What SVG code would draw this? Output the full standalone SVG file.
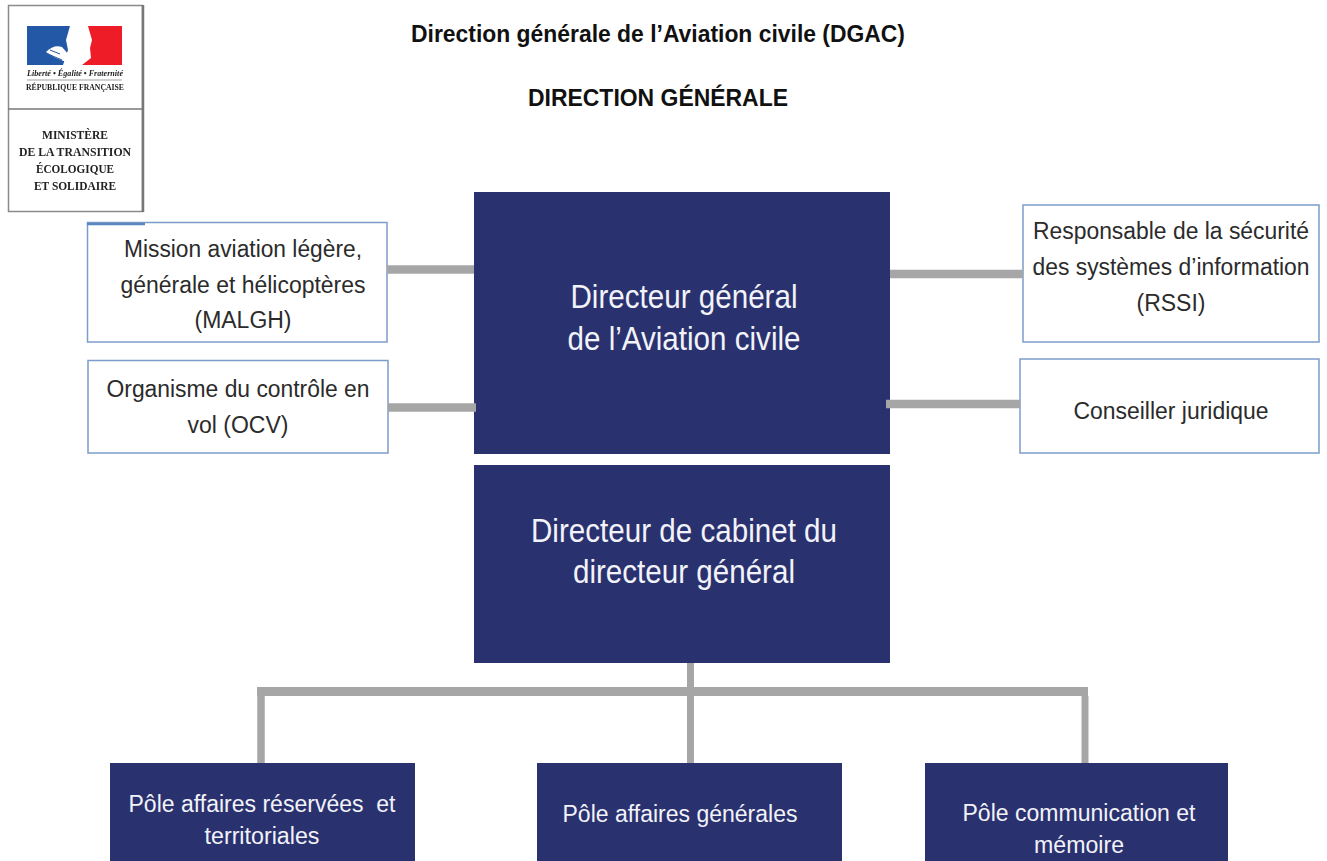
<svg xmlns="http://www.w3.org/2000/svg" width="1327" height="861" viewBox="0 0 1327 861">
<defs><filter id="soft" x="-5%" y="-5%" width="110%" height="110%"><feGaussianBlur stdDeviation="0.45"/></filter></defs>
<style>
text{font-family:"Liberation Sans",Arial,sans-serif;text-anchor:middle}
.dark{fill:#2a316f}
.light{fill:#fff;stroke:#7c9ccb;stroke-width:1.5}
.t{font-size:23px;fill:#2b2b2b}
.big{font-size:33px;fill:#f2f3f8}
.mid{font-size:23px;fill:#f2f3f8}
.h{font-size:23px;font-weight:bold;fill:#111}
.c{fill:none;stroke:#a6a6a6;stroke-width:8.5}
.logo{font-family:"Liberation Serif",serif;fill:#222}
</style>
<rect width="1327" height="861" fill="#fff"/>
<g id="logo" filter="url(#soft)">
<rect x="8.500" y="5.500" width="134" height="206" fill="#fff" stroke="#8a8a8a" stroke-width="1.500"/>
<path d="M143 5V212" stroke="#777" stroke-width="2.500"/>
<path d="M8 109H143" stroke="#777" stroke-width="1.500"/>
<path d="M27 26H70L66 40 68 50 63 65H27Z" fill="#2459a6"/>
<path d="M88 26H122V65H82L91 58 90 48 92 40Z" fill="#ee1c25"/>
<path d="M46 52Q54 44 62 47L70 56 66 62 56 58 52 56Z" fill="#fff"/>
<path d="M50 50L60 54M48 54L62 60" stroke="#2459a6" stroke-width="1"/>
<text class="logo" x="75" y="76" font-size="7.500" font-style="italic" font-weight="bold" textLength="96" lengthAdjust="spacingAndGlyphs">Liberté • Égalité • Fraternité</text>
<path d="M27 80H122" stroke="#888" stroke-width="0.800"/>
<text class="logo" x="75" y="90" font-size="8" font-weight="bold" textLength="98" lengthAdjust="spacingAndGlyphs">RÉPUBLIQUE FRANÇAISE</text>
<text class="logo" x="75" y="139" font-size="12.500" font-weight="bold" textLength="66" lengthAdjust="spacingAndGlyphs">MINISTÈRE</text>
<text class="logo" x="75" y="156" font-size="12.500" font-weight="bold" textLength="112" lengthAdjust="spacingAndGlyphs">DE LA TRANSITION</text>
<text class="logo" x="75" y="173" font-size="12.500" font-weight="bold" textLength="78" lengthAdjust="spacingAndGlyphs">ÉCOLOGIQUE</text>
<text class="logo" x="75" y="190" font-size="12.500" font-weight="bold" textLength="82" lengthAdjust="spacingAndGlyphs">ET SOLIDAIRE</text>
</g>
<g id="titles">
<text class="h" x="658" y="42" textLength="494" lengthAdjust="spacingAndGlyphs">Direction générale de l’Aviation civile (DGAC)</text>
<text class="h" x="658" y="106" textLength="260" lengthAdjust="spacingAndGlyphs">DIRECTION GÉNÉRALE</text>
</g>
<g id="n-malgh">
<rect class="light" x="87.500" y="222.500" width="299.500" height="119.500"/>
<path d="M87 224H145" stroke="#5b86c0" stroke-width="2.500"/>
<text class="t" x="243" y="257" textLength="238" lengthAdjust="spacingAndGlyphs">Mission aviation légère,</text>
<text class="t" x="243" y="293" textLength="245" lengthAdjust="spacingAndGlyphs">générale et hélicoptères</text>
<text class="t" x="243" y="328" textLength="97" lengthAdjust="spacingAndGlyphs">(MALGH)</text>
</g>
<g id="n-ocv">
<rect class="light" x="88" y="360.500" width="300" height="92.500"/>
<text class="t" x="238" y="397" textLength="263" lengthAdjust="spacingAndGlyphs">Organisme du contrôle en</text>
<text class="t" x="238" y="433" textLength="101" lengthAdjust="spacingAndGlyphs">vol (OCV)</text>
</g>
<g id="n-rssi">
<rect class="light" x="1023" y="205" width="296" height="137"/>
<text class="t" x="1171" y="239" textLength="276" lengthAdjust="spacingAndGlyphs">Responsable de la sécurité</text>
<text class="t" x="1171" y="275" textLength="277" lengthAdjust="spacingAndGlyphs">des systèmes d’information</text>
<text class="t" x="1171" y="311" textLength="69" lengthAdjust="spacingAndGlyphs">(RSSI)</text>
</g>
<g id="n-juridique">
<rect class="light" x="1020" y="359" width="299" height="94"/>
<text class="t" x="1171" y="419" textLength="195" lengthAdjust="spacingAndGlyphs">Conseiller juridique</text>
</g>
<g id="n-dg">
<rect class="dark" x="474" y="192" width="416" height="262"/>
<text class="big" x="684" y="308" textLength="227" lengthAdjust="spacingAndGlyphs">Directeur général</text>
<text class="big" x="684" y="350" textLength="233" lengthAdjust="spacingAndGlyphs">de l’Aviation civile</text>
</g>
<g id="n-cabinet">
<rect class="dark" x="474" y="465" width="416" height="198"/>
<text class="big" x="684" y="542" textLength="306" lengthAdjust="spacingAndGlyphs">Directeur de cabinet du</text>
<text class="big" x="684" y="583" textLength="222" lengthAdjust="spacingAndGlyphs">directeur général</text>
</g>
<g id="n-reservees">
<rect class="dark" x="110" y="763" width="305" height="98"/>
<text class="mid" x="262" y="812" textLength="267" lengthAdjust="spacingAndGlyphs" xml:space="preserve">Pôle affaires réservées  et</text>
<text class="mid" x="262" y="844" textLength="115" lengthAdjust="spacingAndGlyphs">territoriales</text>
</g>
<g id="n-generales">
<rect class="dark" x="537" y="763" width="305" height="98"/>
<text class="mid" x="680" y="822" textLength="235" lengthAdjust="spacingAndGlyphs">Pôle affaires générales</text>
</g>
<g id="n-communication">
<rect class="dark" x="925" y="763" width="303" height="98"/>
<text class="mid" x="1079" y="821" textLength="233" lengthAdjust="spacingAndGlyphs">Pôle communication et</text>
<text class="mid" x="1079" y="853" textLength="90" lengthAdjust="spacingAndGlyphs">mémoire</text>
</g>
<g id="connectors">
<path class="c" d="M387 269.500H474"/>
<path class="c" d="M388 407.500H476"/>
<path class="c" d="M890 274H1023"/>
<path class="c" d="M886 404H1020"/>
<path class="c" stroke-width="7" style="stroke-width:7" d="M690.500 663V763"/>
<path class="c" style="stroke-width:9" d="M257 691.500H1088"/>
<path class="c" style="stroke-width:7.500" d="M261 696V763"/>
<path class="c" style="stroke-width:7" d="M1085 696V763"/>
</g>
</svg>
